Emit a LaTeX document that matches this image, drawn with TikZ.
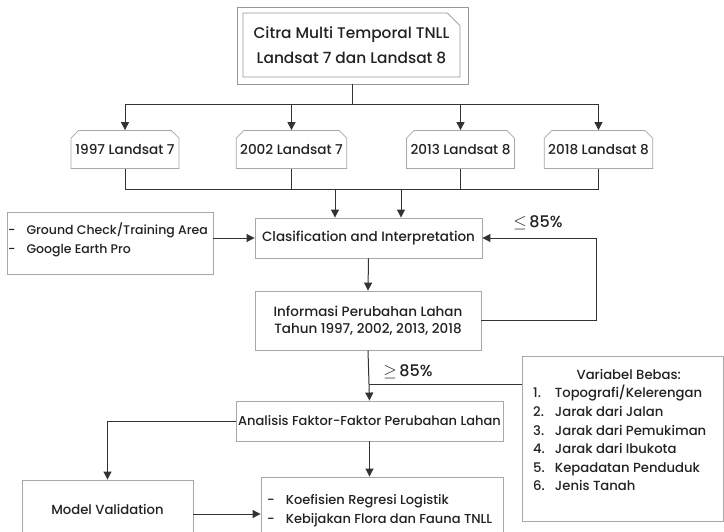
\documentclass[tikz,border=0pt]{standalone}
\usepackage{fontspec}
\IfFontExistsTF{Poppins Medium}{\setmainfont{Poppins Medium}}{\setmainfont{Poppins}[FakeBold=0.4]}
\usetikzlibrary{arrows.meta,shapes.misc}
\definecolor{ln}{HTML}{333333}
\definecolor{bx}{HTML}{A8A8A8}
\definecolor{tx}{HTML}{222222}
\begin{document}
\begin{tikzpicture}[x=1pt,y=-1pt,
  box/.style={draw=bx,line width=0.9pt,fill=white,text=tx,inner sep=0pt,minimum width=#1},
  yearbox/.style={chamfered rectangle,chamfered rectangle corners={north east,north west},chamfered rectangle xsep=4pt,draw=bx,line width=0.8pt,fill=white,text=tx,inner sep=0pt,minimum width=108pt,minimum height=38pt,font=\fontsize{13.6}{15}\selectfont},
  conn/.style={draw=ln,line width=1pt},
  arr/.style={conn,-{Triangle[width=8pt,length=8pt]}},
  lbl/.style={text=tx,inner sep=0pt}]
\useasboundingbox (0,0) rectangle (724,531);
\clip (0,0) rectangle (724,531);
\fill[white] (0,0) rectangle (724,531);
% top box
\node[chamfered rectangle,chamfered rectangle corners={north east,south west},chamfered rectangle xsep=10pt,draw=bx!90!black,line width=0.8pt,inner sep=0pt,minimum width=231pt,minimum height=77pt] (top) at (352.5,45.5) {};
\node[chamfered rectangle,chamfered rectangle corners={north east},chamfered rectangle xsep=9pt,draw=bx!90!black,line width=0.8pt,inner sep=0pt,minimum width=217pt,minimum height=64pt,align=center,text=tx,font=\fontsize{15.4}{25}\selectfont] (topin) at (351.5,45) {Citra Multi Temporal TNLL\\Landsat 7 dan Landsat 8};
% year boxes
\node[yearbox] (b1) at (125,149.5) {1997 Landsat 7};
\node[yearbox] (b2) at (291.5,149.5) {2002 Landsat 7};
\node[yearbox] (b3) at (460.5,149.5) {2013 Landsat 8};
\node[yearbox] (b4) at (598.5,149.5) {2018 Landsat 8};
% classification
\node[box=227pt,minimum height=40pt,font=\fontsize{13.5}{15}\selectfont] (cls) at (368.5,238) {Clasification and Interpretation};
\node[box=206pt,minimum height=62pt] (gc) at (110,243) {};
\node[lbl,anchor=west,font=\fontsize{12.5}{19}\selectfont] (gct) at (8,240.5) {\begin{tabular}{@{}l@{\hspace{11pt}}l@{}}-&Ground Check/Training Area\\-&Google Earth Pro\end{tabular}};
\node[box=226pt,minimum height=59pt,align=center,font=\fontsize{13.5}{17}\selectfont] (info) at (368,320.5) {Informasi Perubahan Lahan\\Tahun 1997, 2002, 2013, 2018};
\node[box=267pt,minimum height=40pt,font=\fontsize{13}{15}\selectfont] (anal) at (369.5,421) {Analisis Faktor-Faktor Perubahan Lahan};
\node[box=201pt,minimum height=165pt] (var) at (622.5,438.5) {};
\node[lbl,anchor=north west,font=\fontsize{13.2}{18.6}\selectfont] (vart) at (533,366) {\begin{tabular}{@{}l@{\hspace{10pt}}l@{}}\multicolumn{2}{@{}c@{}}{\hspace{18pt}Variabel Bebas:}\\1.&Topografi/Kelerengan\\2.&Jarak dari Jalan\\3.&Jarak dari Pemukiman\\4.&Jarak dari Ibukota\\5.&Kepadatan Penduduk\\6.&Jenis Tanah\end{tabular}};
\node[box=171pt,minimum height=58pt,font=\fontsize{13.2}{15}\selectfont] (mv) at (107.5,509) {Model Validation};
\node[box=242pt,minimum height=62pt] (koef) at (382,508) {};
\node[lbl,anchor=west,font=\fontsize{13}{19}\selectfont] (koeft) at (267,510.5) {\begin{tabular}{@{}l@{\hspace{11pt}}l@{}}-&Koefisien Regresi Logistik\\-&Kebijakan Flora dan Fauna TNLL\end{tabular}};
% labels
\node[lbl,font=\fontsize{16}{18}\selectfont] (le) at (538,223) {$\leq$\,85\%};
\node[lbl,font=\fontsize{16}{18}\selectfont] (ge) at (408,372) {$\geq$\,85\%};
% connectors
\coordinate (h1) at (0,104);
\coordinate (h2) at (0,189);
\coordinate (j) at (369,384);
\coordinate (lp) at (596,0);
\draw[conn] (top.south) -- (top.south |- h1);
\draw[conn] (b1.north |- h1) -- (b4.north |- h1);
\foreach \b in {b1,b2,b3,b4}{
  \draw[arr] (\b.north |- h1) -- (\b.north);
  \draw[conn] (\b.south) -- (\b.south |- h2);
}
\draw[conn] (b1.south |- h2) -- (b4.south |- h2);
\draw[arr] ([xshift=-33.5pt]cls.north |- h2) -- ([xshift=-33.5pt]cls.north);
\draw[arr] ([xshift=32.5pt]cls.north |- h2) -- ([xshift=32.5pt]cls.north);
\draw[arr] (gc.east |- cls.west) -- (cls.west);
\draw[arr] (cls.south) -- (info.north);
\draw[arr] (info.east) -- (info.east -| lp) -- (cls.east -| lp) -- (cls.east);
\draw[arr] (info.south) -- (anal.north);
\draw[conn] (j) -- (var.west |- j);
\draw[arr] (anal.west) -| (mv.north);
\draw[arr] (anal.south) -- (anal.south |- koef.north);
\draw[arr] ([yshift=-5pt]mv.east) -- ([yshift=-5pt]mv.east -| koef.west);
\end{tikzpicture}
\end{document}
